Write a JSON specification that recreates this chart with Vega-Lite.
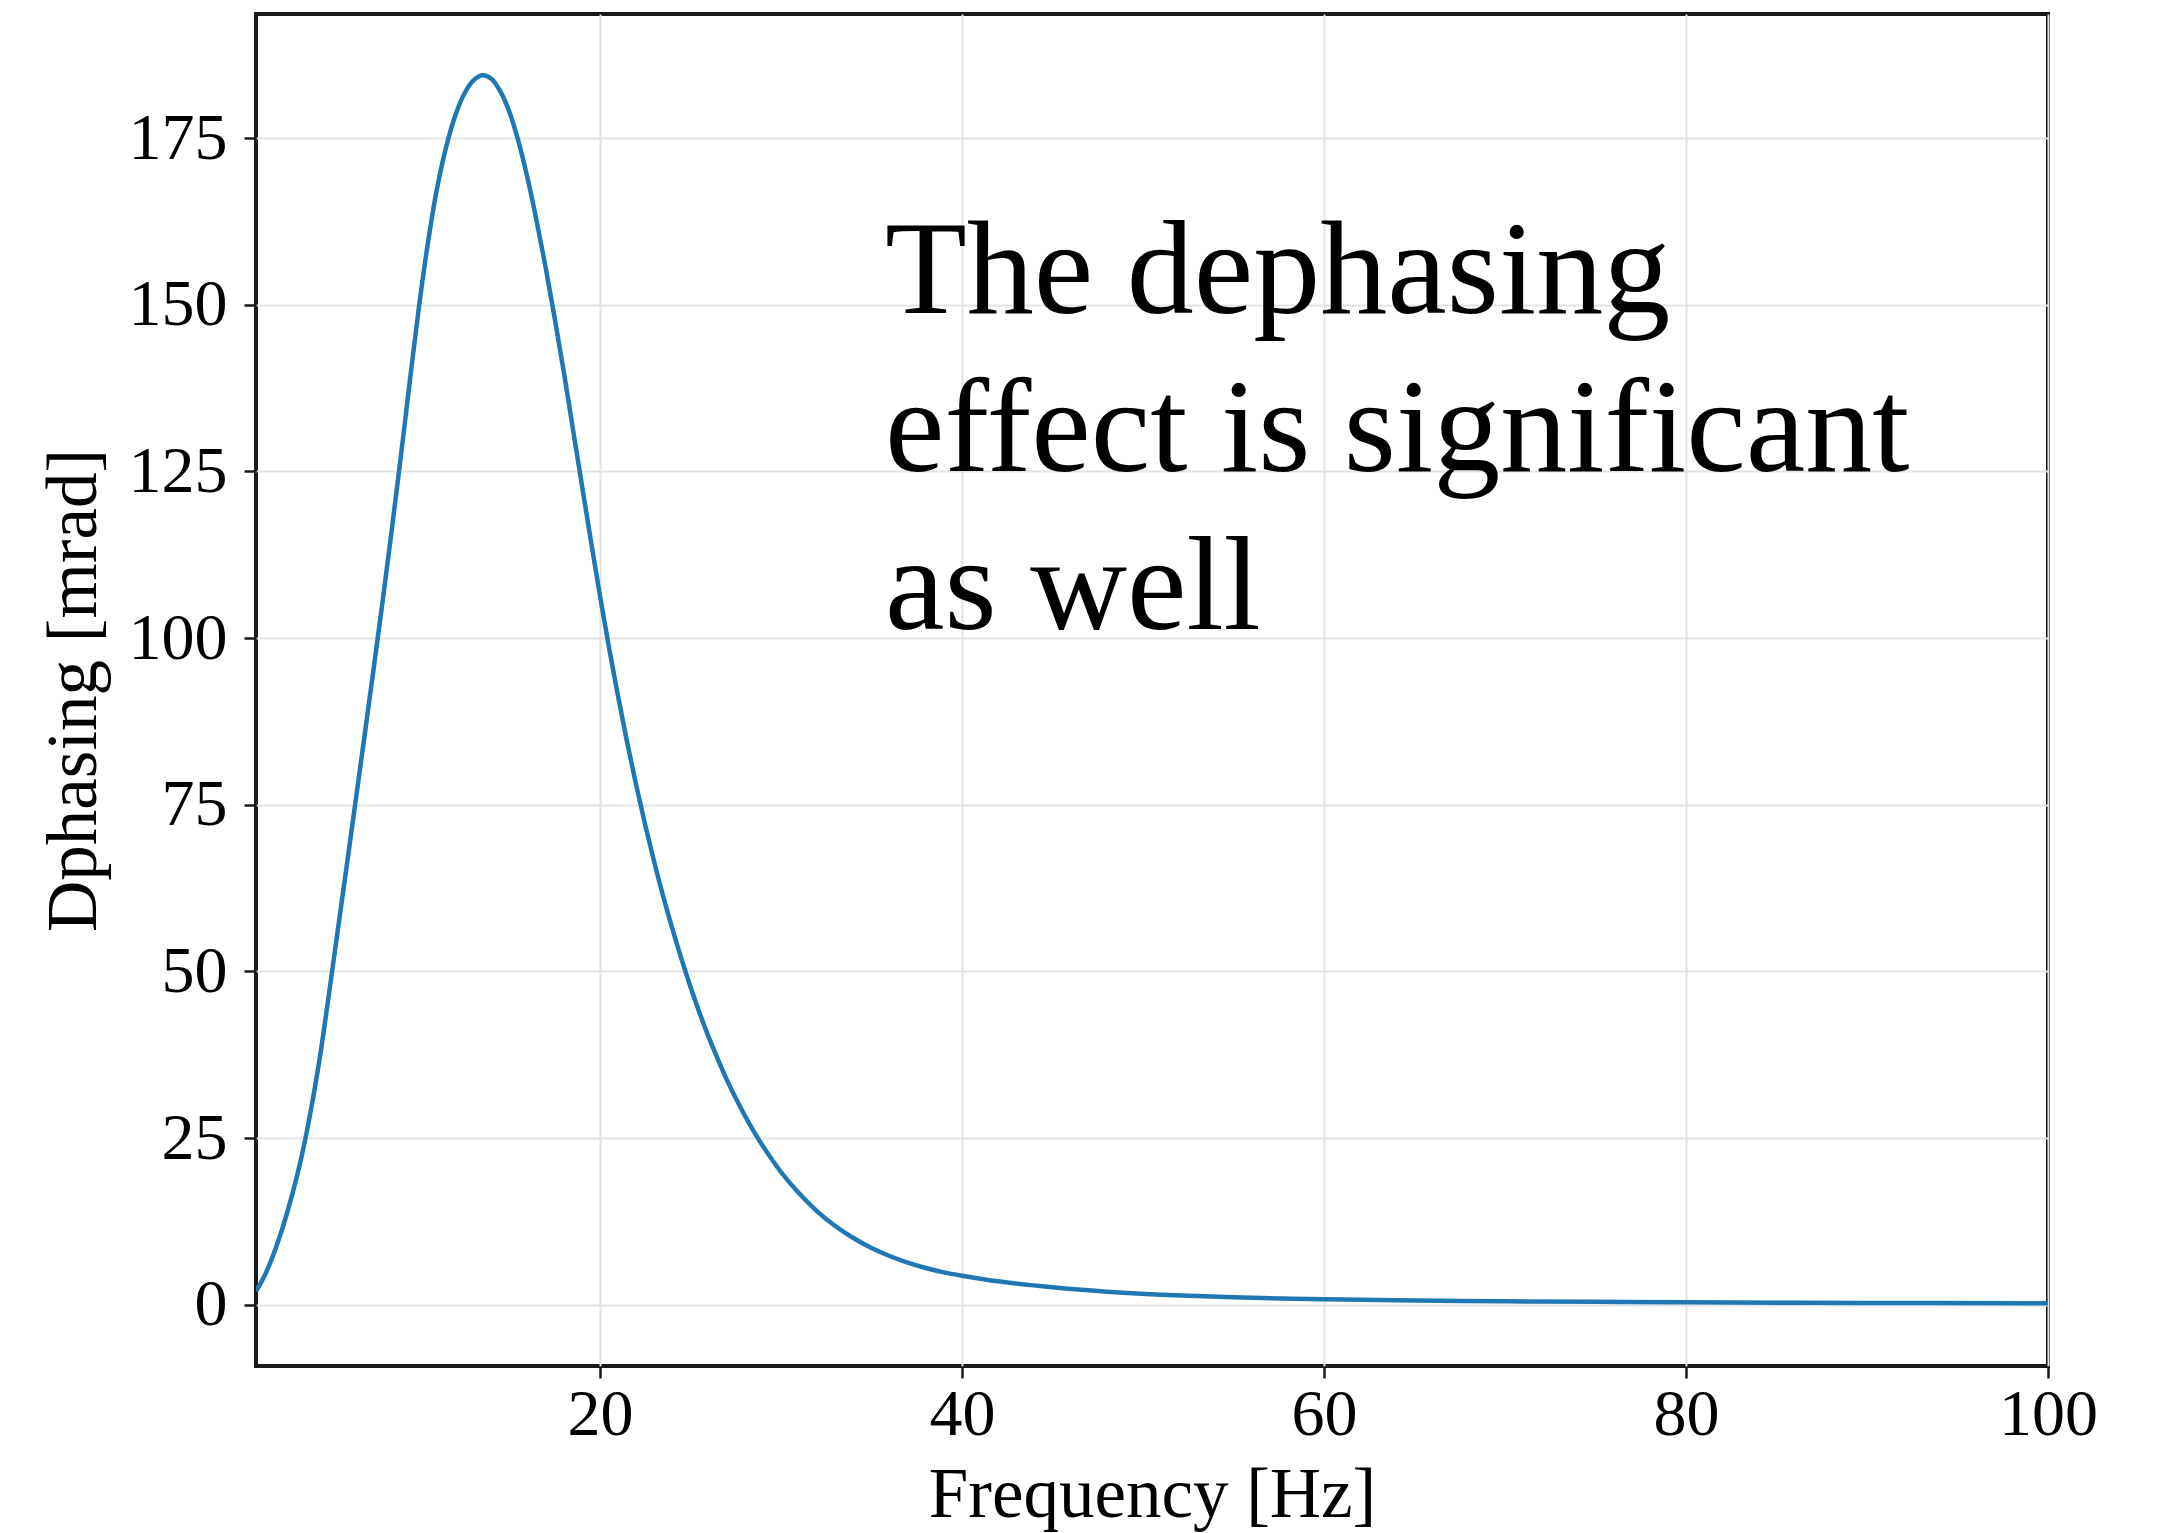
{
  "$schema": "https://vega.github.io/schema/vega-lite/v6.json",
  "autosize": "none",
  "width": 1792,
  "height": 1352,
  "padding": {"left": 256, "top": 14, "right": 109, "bottom": 167},
  "background": "white",
  "config": {
    "view": {"stroke": "#1a1a1a", "strokeWidth": 4},
    "font": "Liberation Serif",
    "axis": {
      "domain": false,
      "grid": true,
      "gridColor": "#e3e3e3",
      "gridWidth": 2,
      "tickColor": "#1a1a1a",
      "tickWidth": 2.5,
      "tickSize": 12,
      "labelFont": "Liberation Serif",
      "labelFontSize": 66,
      "labelColor": "#000000",
      "titleFont": "Liberation Serif",
      "titleFontSize": 71,
      "titleFontWeight": "normal",
      "titleColor": "#000000"
    }
  },
  "datasets": {
    "curve": [
      {"f": 1, "d": 2.0}, {"f": 1.5, "d": 4.5}, {"f": 2, "d": 7.8}, {"f": 2.5, "d": 11.8},
      {"f": 3, "d": 16.5}, {"f": 3.5, "d": 22.0}, {"f": 4, "d": 28.7}, {"f": 4.5, "d": 36.6},
      {"f": 5, "d": 46.0}, {"f": 5.5, "d": 55.8}, {"f": 6, "d": 65.6}, {"f": 6.5, "d": 75.5},
      {"f": 7, "d": 85.4}, {"f": 7.5, "d": 95.4}, {"f": 8, "d": 105.6}, {"f": 8.5, "d": 116.2},
      {"f": 9, "d": 127.2}, {"f": 9.5, "d": 138.6}, {"f": 10, "d": 149.6}, {"f": 10.5, "d": 159.3},
      {"f": 11, "d": 167.4}, {"f": 11.5, "d": 173.6}, {"f": 12, "d": 178.3}, {"f": 12.5, "d": 181.6},
      {"f": 13, "d": 183.6}, {"f": 13.5, "d": 184.4}, {"f": 14, "d": 183.9}, {"f": 14.5, "d": 182.0},
      {"f": 15, "d": 178.9}, {"f": 15.5, "d": 174.5}, {"f": 16, "d": 169.0}, {"f": 16.5, "d": 162.6},
      {"f": 17, "d": 155.6}, {"f": 17.5, "d": 148.0}, {"f": 18, "d": 140.0}, {"f": 18.5, "d": 131.5},
      {"f": 19, "d": 123.0}, {"f": 19.5, "d": 114.6}, {"f": 20, "d": 106.4}, {"f": 20.5, "d": 98.6},
      {"f": 21, "d": 91.3}, {"f": 21.5, "d": 84.4}, {"f": 22, "d": 78.0}, {"f": 22.5, "d": 72.0},
      {"f": 23, "d": 66.4}, {"f": 23.5, "d": 61.2}, {"f": 24, "d": 56.4}, {"f": 24.5, "d": 51.9},
      {"f": 25, "d": 47.7}, {"f": 25.5, "d": 43.8}, {"f": 26, "d": 40.2}, {"f": 26.5, "d": 36.9},
      {"f": 27, "d": 33.8}, {"f": 27.5, "d": 31.0}, {"f": 28, "d": 28.4}, {"f": 28.5, "d": 26.0},
      {"f": 29, "d": 23.8}, {"f": 30, "d": 19.9}, {"f": 31, "d": 16.7}, {"f": 32, "d": 14.0},
      {"f": 33, "d": 11.8}, {"f": 34, "d": 10.0}, {"f": 35, "d": 8.5}, {"f": 36, "d": 7.3},
      {"f": 37, "d": 6.3}, {"f": 38, "d": 5.5}, {"f": 39, "d": 4.85}, {"f": 40, "d": 4.35},
      {"f": 42, "d": 3.5}, {"f": 45, "d": 2.6}, {"f": 48, "d": 1.95}, {"f": 51, "d": 1.5},
      {"f": 55, "d": 1.1}, {"f": 60, "d": 0.8}, {"f": 65, "d": 0.62}, {"f": 70, "d": 0.5},
      {"f": 75, "d": 0.42}, {"f": 80, "d": 0.35}, {"f": 90, "d": 0.26}, {"f": 100, "d": 0.2}
    ],
    "note": [
      {"f": 35.75, "d": 148.7, "label": "The dephasing\neffect is significant\nas well"}
    ]
  },
  "layer": [
    {
      "data": {"name": "curve"},
      "mark": {"type": "line", "color": "#1f77b4", "strokeWidth": 4.5, "interpolate": "catmull-rom", "clip": true},
      "encoding": {
        "x": {
          "field": "f", "type": "quantitative",
          "scale": {"domain": [1, 100], "nice": false, "zero": false},
          "axis": {"title": "Frequency [Hz]", "values": [20, 40, 60, 80, 100], "labelPadding": 4, "titlePadding": 13, "labelFlush": false, "labelOverlap": false}
        },
        "y": {
          "field": "d", "type": "quantitative",
          "scale": {"domain": [-9.2, 193.6], "nice": false, "zero": false},
          "axis": {"title": "Dphasing [mrad]", "values": [0, 25, 50, 75, 100, 125, 150, 175], "labelPadding": 17, "titlePadding": 18, "labelFlush": false, "labelOverlap": false}
        }
      }
    },
    {
      "data": {"name": "note"},
      "mark": {"type": "text", "align": "left", "baseline": "alphabetic", "font": "Liberation Serif", "fontSize": 134, "lineHeight": 158, "lineBreak": "\n", "color": "#000000"},
      "encoding": {
        "x": {"field": "f", "type": "quantitative"},
        "y": {"field": "d", "type": "quantitative"},
        "text": {"field": "label"}
      }
    }
  ]
}
